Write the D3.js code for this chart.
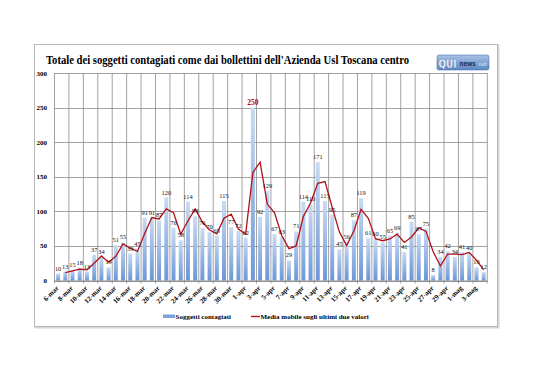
<!DOCTYPE html>
<html><head><meta charset="utf-8">
<script src="https://cdn.jsdelivr.net/npm/d3@7"></script>
<style>html,body{margin:0;padding:0;background:#fff;}svg{display:block;}</style>
</head><body>
<svg id="c" width="538" height="380"></svg>
<script>
const dates = ["6-mar","7-mar","8-mar","9-mar","10-mar","11-mar","12-mar","13-mar","14-mar","15-mar","16-mar","17-mar","18-mar","19-mar","20-mar","21-mar","22-mar","23-mar","24-mar","25-mar","26-mar","27-mar","28-mar","29-mar","30-mar","31-mar","1-apr","2-apr","3-apr","4-apr","5-apr","6-apr","7-apr","8-apr","9-apr","10-apr","11-apr","12-apr","13-apr","14-apr","15-apr","16-apr","17-apr","18-apr","19-apr","20-apr","21-apr","22-apr","23-apr","24-apr","25-apr","26-apr","27-apr","28-apr","29-apr","30-apr","1-mag","2-mag","3-mag","4-mag"];
const contagiati = [10,13,15,18,13,37,34,19,51,55,39,45,91,91,87,120,76,58,114,93,76,70,65,115,77,72,62,250,92,129,67,63,29,71,114,110,171,115,95,45,56,87,119,61,60,55,65,69,41,85,67,75,8,34,42,34,41,40,19,12];
// media mobile sugli ultimi due valori (first day has no value)
const media = [null,11.5,14,16.5,15.5,25,35.5,26.5,35,53,47,42,68,91,89,103.5,98,67,86,103.5,84.5,73,67.5,90,96,74.5,67,156,171,110.5,98,65,46,50,92.5,112,140.5,143,105.5,70,50.5,71.5,103,90,60.5,57.5,60,67,55,63,76,71,41.5,21,38,38,37.5,40.5,29.5,15.5];
const yTicks = [0,50,100,150,200,250,300];
const title = "Totale dei soggetti contagiati come dai bollettini dell'Azienda Usl Toscana centro";
const legendBar = "Soggetti contagiati";
const legendLine = "Media mobile sugli ultimi due valori";

const svg = d3.select("#c");
const defs = svg.append("defs");
const g1 = defs.append("linearGradient").attr("id","barG").attr("x1",0).attr("x2",0).attr("y1",0).attr("y2",1);
g1.append("stop").attr("offset","0%").attr("stop-color","#c9dbf3");
g1.append("stop").attr("offset","100%").attr("stop-color","#6d97d8");
const g2 = defs.append("linearGradient").attr("id","logoG").attr("x1",0).attr("x2",0).attr("y1",0).attr("y2",1);
g2.append("stop").attr("offset","0%").attr("stop-color","#a9c3e6");
g2.append("stop").attr("offset","100%").attr("stop-color","#5d86c2");

// chart frame
svg.append("rect").attr("x",35.5).attr("y",45.5).attr("width",463).attr("height",282)
  .attr("fill","none").attr("stroke","#d6d6d6").attr("stroke-width",2);
svg.append("rect").attr("x",34.5).attr("y",44.5).attr("width",463).attr("height",282)
  .attr("fill","#fff").attr("stroke","#b8b8b8").attr("stroke-width",1);

const serif = "'Liberation Serif','DejaVu Serif',serif";

// title
const t = svg.append("text").attr("x",46).attr("y",64).attr("font-family",serif)
  .attr("font-weight","bold").attr("font-size",11.5).attr("fill","#000").text(title);
t.attr("textLength",363).attr("lengthAdjust","spacingAndGlyphs");

// logo
const lg = svg.append("g").attr("transform","translate(437,55)");
lg.append("rect").attr("width",52).attr("height",15).attr("rx",2).attr("fill","url(#logoG)").attr("stroke","#4f78b5").attr("stroke-width",0.6);
lg.append("text").attr("transform","translate(1.5,12.8) scale(0.68,1)").attr("font-family","'DejaVu Sans',sans-serif").attr("font-weight","bold")
  .attr("font-size",13).attr("fill","#fff").attr("stroke","#3d64a0").attr("stroke-width",0.4).text("QUI");
lg.append("text").attr("transform","translate(22.5,11) scale(0.74,1)").attr("font-family","'DejaVu Sans',sans-serif").attr("font-weight","bold")
  .attr("font-size",7.5).attr("fill","#1d3560").text("news");
lg.append("text").attr("x",41.5).attr("y",11).attr("font-family","'DejaVu Sans',sans-serif")
  .attr("font-size",5).attr("fill","#e8f0fb").text("net");

const pLeft = 54.5, pRight = 487.3, pTop = 73, pBottom = 280.5;
const x = d3.scaleBand().domain(dates).range([pLeft,pRight]).paddingInner(0.45).paddingOuter(0.225);
const xb = d3.scaleBand().domain(dates).range([pLeft,pRight]);
const y = d3.scaleLinear().domain([0,300]).range([pBottom,pTop]);

// horizontal grid
svg.append("g").selectAll("line").data(yTicks).join("line")
  .attr("x1",pLeft).attr("x2",pRight).attr("y1",d=>Math.round(y(d))+0.5).attr("y2",d=>Math.round(y(d))+0.5)
  .attr("stroke","#8a8a8a").attr("stroke-width",0.8);
// vertical grid every 2 categories
const vIdx = d3.range(0,dates.length+1,2);
const bw = xb.step();
svg.append("g").selectAll("line").data(vIdx).join("line")
  .attr("x1",d=>pLeft+d*bw).attr("x2",d=>pLeft+d*bw).attr("y1",pTop).attr("y2",pBottom+3)
  .attr("stroke","#8a8a8a").attr("stroke-width",0.8);

// y axis labels
svg.append("g").selectAll("text").data(yTicks).join("text")
  .attr("x",47).attr("y",d=>y(d)+2.5).attr("text-anchor","end")
  .attr("font-family",serif).attr("font-weight","bold").attr("font-size",7).text(d=>d);

// bars
svg.append("g").selectAll("rect").data(contagiati).join("rect")
  .attr("x",(d,i)=>x(dates[i])).attr("width",x.bandwidth())
  .attr("y",d=>y(d)).attr("height",d=>y(0)-y(d)).attr("fill","url(#barG)");

// line
const pts = media.map((v,i)=>({v,i})).filter(p=>p.v!==null);
svg.append("path").datum(pts)
  .attr("d",d3.line().x(p=>xb(dates[p.i])+bw/2).y(p=>y(p.v)))
  .attr("fill","none").attr("stroke","#b3101a").attr("stroke-width",1.3);

// value labels
svg.append("g").selectAll("text").data(contagiati).join("text")
  .attr("x",(d,i)=>xb(dates[i])+bw/2).attr("y",d=>y(d)-3).attr("text-anchor","middle")
  .attr("font-family",serif).attr("font-size",d=>d===250?7.5:6.4)
  .attr("font-weight",d=>d===250?"bold":"normal")
  .attr("fill",d=>d===250?"#c00000":"#111").text(d=>d);

// x axis line
svg.append("line").attr("x1",pLeft).attr("x2",pRight).attr("y1",pBottom+0.5).attr("y2",pBottom+0.5).attr("stroke","#777").attr("stroke-width",0.8);

// x labels (every 2nd)
svg.append("g").selectAll("text").data(dates.filter((d,i)=>i%2===0)).join("text")
  .attr("transform",d=>`translate(${xb(d)+bw/2+1},${pBottom+8}) rotate(-45)`)
  .attr("text-anchor","end").attr("font-family",serif).attr("font-weight","bold").attr("font-size",7).text(d=>d);

// legend
svg.append("rect").attr("x",163).attr("y",314.5).attr("width",12).attr("height",3.5).attr("fill","#7aa2dc");
svg.append("text").attr("x",175.5).attr("y",319).attr("font-family",serif).attr("font-weight","bold").attr("font-size",7).text(legendBar);
svg.append("line").attr("x1",251).attr("x2",260).attr("y1",316.5).attr("y2",316.5).attr("stroke","#c0141c").attr("stroke-width",1.4);
svg.append("text").attr("x",260.5).attr("y",319).attr("font-family",serif).attr("font-weight","bold").attr("font-size",7).text(legendLine);
</script>
</body></html>
